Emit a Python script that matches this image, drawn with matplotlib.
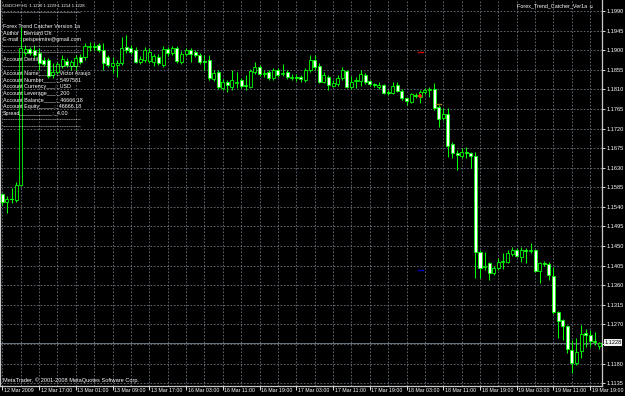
import matplotlib
matplotlib.use('Agg')
import matplotlib.pyplot as plt
from matplotlib.patches import Rectangle
from matplotlib.ticker import MultipleLocator
from matplotlib.transforms import ScaledTranslation

plt.rcParams['font.family'] = ['Liberation Sans', 'DejaVu Sans']

symbol_title = 'USDCHF,H1  1.1220 1.1229 1.1214 1.1228'
indicator_name = 'Forex_Trend_Catcher_Ver1a \u263A'
footer_text = 'MetaTrader, \u00a9 2001-2008 MetaQuotes Software Corp.'

# H1 bars, 12 Mar 2009 09:00 .. 19 Mar 2009 21:00
bar_open = [
    1.1569, 1.1551, 1.1557, 1.1556, 1.1590, 1.1893, 1.1903, 1.1900, 1.1893, 1.1877,
    1.1877, 1.1843, 1.1850, 1.1864, 1.1875, 1.1864, 1.1864, 1.1884, 1.1884, 1.1907,
    1.1910, 1.1912, 1.1900, 1.1884, 1.1864, 1.1866, 1.1871, 1.1907, 1.1905, 1.1900,
    1.1873, 1.1877, 1.1875, 1.1873, 1.1884, 1.1866, 1.1903, 1.1893, 1.1905, 1.1873,
    1.1891, 1.1900, 1.1896, 1.1889, 1.1875, 1.1877, 1.1834, 1.1850, 1.1813, 1.1827,
    1.1815, 1.1825, 1.1831, 1.1820, 1.1815, 1.1850, 1.1861, 1.1845, 1.1850, 1.1836,
    1.1854, 1.1845, 1.1850, 1.1836, 1.1838, 1.1838, 1.1831, 1.1854, 1.1877, 1.1864,
    1.1827, 1.1838, 1.1818, 1.1822, 1.1836, 1.1852, 1.1815, 1.1829, 1.1829, 1.1843,
    1.1829, 1.1822, 1.1815, 1.1820, 1.1804, 1.1802, 1.1820, 1.1806, 1.1790, 1.1781,
    1.1797, 1.1792, 1.1804, 1.1808, 1.1811, 1.1769, 1.1744, 1.1753, 1.1684, 1.1664,
    1.1657, 1.1666, 1.1664, 1.1657, 1.1436, 1.1402, 1.1411, 1.1388, 1.1399, 1.1413,
    1.1413, 1.1432, 1.1441, 1.1425, 1.1441, 1.1438, 1.1441, 1.1393, 1.1411, 1.1409,
    1.1381, 1.1298, 1.1280, 1.1266, 1.1211, 1.1181, 1.1209, 1.1250, 1.1245, 1.1232,
    1.1220]
bar_high = [
    1.1572, 1.1565, 1.1583, 1.1597, 1.1953, 1.1912, 1.1907, 1.1912, 1.1905, 1.1884,
    1.1882, 1.1871, 1.1873, 1.1889, 1.1882, 1.1877, 1.1889, 1.1891, 1.1917, 1.1919,
    1.1917, 1.1917, 1.1917, 1.1889, 1.1884, 1.1877, 1.1930, 1.1935, 1.1912, 1.1907,
    1.1887, 1.1907, 1.1905, 1.1891, 1.1891, 1.1910, 1.1907, 1.1910, 1.1910, 1.1898,
    1.1905, 1.1905, 1.1900, 1.1893, 1.1889, 1.1889, 1.1854, 1.1854, 1.1834, 1.1831,
    1.1854, 1.1850, 1.1836, 1.1843, 1.1857, 1.1873, 1.1866, 1.1854, 1.1854, 1.1859,
    1.1859, 1.1868, 1.1854, 1.1845, 1.1845, 1.1843, 1.1859, 1.1889, 1.1889, 1.1871,
    1.1850, 1.1843, 1.1831, 1.1843, 1.1861, 1.1854, 1.1841, 1.1838, 1.1854, 1.1848,
    1.1831, 1.1825, 1.1827, 1.1822, 1.1808, 1.1827, 1.1827, 1.1811, 1.1792, 1.1802,
    1.1802, 1.1808, 1.1813, 1.1815, 1.1825, 1.1774, 1.1767, 1.1767, 1.1689, 1.1671,
    1.1675, 1.1677, 1.1666, 1.1666, 1.1441, 1.1436, 1.1413, 1.1404, 1.1422, 1.1434,
    1.1441, 1.1448, 1.1445, 1.1448, 1.1445, 1.1457, 1.1443, 1.1413, 1.1416, 1.1413,
    1.1402, 1.1301, 1.1282, 1.1269, 1.1234, 1.1239, 1.1269, 1.1259, 1.1257, 1.1252,
    1.1229]
bar_low = [
    1.1544, 1.1526, 1.1549, 1.1551, 1.1588, 1.1887, 1.1889, 1.1882, 1.1854, 1.1864,
    1.1836, 1.1836, 1.1845, 1.1859, 1.1861, 1.1854, 1.1854, 1.1868, 1.1877, 1.1898,
    1.1900, 1.1896, 1.1854, 1.1861, 1.1848, 1.1838, 1.1866, 1.1893, 1.1891, 1.1871,
    1.1868, 1.1873, 1.1871, 1.1864, 1.1866, 1.1861, 1.1887, 1.1889, 1.1871, 1.1868,
    1.1887, 1.1873, 1.1884, 1.1868, 1.1854, 1.1831, 1.1829, 1.1811, 1.1808, 1.1804,
    1.1808, 1.1813, 1.1813, 1.1808, 1.1813, 1.1845, 1.1841, 1.1838, 1.1831, 1.1831,
    1.1838, 1.1841, 1.1834, 1.1831, 1.1829, 1.1827, 1.1827, 1.1850, 1.1854, 1.1825,
    1.1825, 1.1808, 1.1815, 1.1818, 1.1831, 1.1813, 1.1811, 1.1813, 1.1818, 1.1822,
    1.1818, 1.1815, 1.1811, 1.1799, 1.1797, 1.1799, 1.1804, 1.1785, 1.1774, 1.1779,
    1.1790, 1.1779, 1.1799, 1.1792, 1.1762, 1.1723, 1.1740, 1.1654, 1.1652, 1.1625,
    1.1652, 1.1652, 1.1629, 1.1376, 1.1376, 1.1395, 1.1372, 1.1383, 1.1395, 1.1397,
    1.1411, 1.1427, 1.1425, 1.1413, 1.1411, 1.1434, 1.1390, 1.1365, 1.1404, 1.1372,
    1.1294, 1.1239, 1.1234, 1.1204, 1.1158, 1.1177, 1.1193, 1.1218, 1.1218, 1.1223,
    1.1214]
bar_close = [
    1.1551, 1.1558, 1.1558, 1.1590, 1.1905, 1.1903, 1.1893, 1.1889, 1.1871, 1.1868,
    1.1841, 1.1850, 1.1868, 1.1880, 1.1866, 1.1873, 1.1882, 1.1873, 1.1910, 1.1910,
    1.1907, 1.1900, 1.1871, 1.1866, 1.1871, 1.1871, 1.1905, 1.1900, 1.1896, 1.1873,
    1.1880, 1.1900, 1.1896, 1.1887, 1.1871, 1.1903, 1.1893, 1.1905, 1.1875, 1.1891,
    1.1900, 1.1891, 1.1889, 1.1873, 1.1873, 1.1836, 1.1848, 1.1815, 1.1827, 1.1820,
    1.1831, 1.1827, 1.1818, 1.1818, 1.1852, 1.1861, 1.1845, 1.1848, 1.1836, 1.1854,
    1.1843, 1.1848, 1.1838, 1.1838, 1.1836, 1.1834, 1.1854, 1.1877, 1.1861, 1.1827,
    1.1843, 1.1820, 1.1825, 1.1836, 1.1854, 1.1815, 1.1827, 1.1831, 1.1845, 1.1827,
    1.1822, 1.1820, 1.1820, 1.1802, 1.1802, 1.1818, 1.1806, 1.1790, 1.1783, 1.1799,
    1.1795, 1.1804, 1.1808, 1.1811, 1.1767, 1.1742, 1.1753, 1.1680, 1.1664, 1.1659,
    1.1666, 1.1664, 1.1657, 1.1436, 1.1399, 1.1404, 1.1388, 1.1399, 1.1413, 1.1416,
    1.1434, 1.1441, 1.1427, 1.1441, 1.1438, 1.1441, 1.1393, 1.1411, 1.1409, 1.1383,
    1.1298, 1.1278, 1.1266, 1.1213, 1.1181, 1.1206, 1.1248, 1.1245, 1.1232, 1.1230,
    1.1228]

bid_price = 1.1228

price_levels = [1.1990, 1.1945, 1.1900, 1.1855, 1.1810, 1.1765, 1.1720, 1.1675, 1.1630, 1.1585,
                1.1540, 1.1495, 1.1450, 1.1405, 1.1360, 1.1315, 1.1270, 1.1225, 1.1180, 1.1135]

time_labels = ['12 Mar 2009', '12 Mar 17:00', '13 Mar 01:00', '13 Mar 09:00', '13 Mar 17:00',
               '16 Mar 03:00', '16 Mar 11:00', '16 Mar 19:00', '17 Mar 03:00', '17 Mar 11:00',
               '17 Mar 19:00', '18 Mar 03:00', '18 Mar 11:00', '18 Mar 19:00', '19 Mar 03:00',
               '19 Mar 11:00', '19 Mar 19:00']
time_label_bars = [0, 8, 16, 24, 32, 40, 48, 56, 64, 72, 80, 88, 96, 104, 112, 120, 128]

# small indicator marks (bar index, price)
signal_dash_bars = [91, 91, 95]
signal_dash_prices = [1.1896, 1.1395, 1.1776]
signal_cross_bar = 91
signal_cross_price = 1.1795

dash_line = '-' * 45
comment_lines = [
    dash_line,
    '',
    'Forex Trend Catcher Version 1a',
    'Author : Bernard Oh',
    'E-mail : peispeimire@gmail.com',
    dash_line,
    dash_line,
    'Account Detail',
    dash_line,
    'Account Name_____ :_Victor Araujo',
    'Account Number____:_5497581',
    'Account Currency___:_USD',
    'Account Leverage___:_200',
    'Account Balance____:_46666.18',
    'Account Equity_____:_46666.18',
    'Spread___________:_4.00',
    dash_line,
    dash_line,
]

W, H = 625, 396
LIME = '#00ff00'
GRID = '#6c7480'


def draw_candles(ax):
    for i in range(len(bar_open)):
        o, h, l, c = bar_open[i], bar_high[i], bar_low[i], bar_close[i]
        ax.plot([i, i], [l, h], color=LIME, lw=0.75, zorder=2, solid_capstyle='butt')
        lo, hi = min(o, c), max(o, c)
        if hi - lo < 0.00012:
            ax.plot([i - 0.33, i + 0.33], [o, o], color=LIME, lw=0.8, zorder=3)
            continue
        face = 'white' if c < o else 'black'
        ax.add_patch(Rectangle((i - 0.33, lo), 0.66, hi - lo, facecolor=face,
                               edgecolor=LIME, lw=0.6, zorder=3))


def draw_signals(ax):
    colors = ['#d00000', '#0000c0', '#8a7a10']
    for b, p, col in zip(signal_dash_bars, signal_dash_prices, colors):
        ax.plot([b - 0.55, b + 0.55], [p, p], color=col, lw=1.0, zorder=4)
    ax.plot(signal_cross_bar, signal_cross_price, marker='+', color='#ff2020',
            ms=3.5, mew=1.2, zorder=5)


def main():
    fig = plt.figure(figsize=(W / 100, H / 100), dpi=100, facecolor='black')
    ax = fig.add_axes([0, 10 / H, 602 / W, 386 / H])
    ax.set_facecolor('black')

    ax.set_xlim(-0.507, 130.56)
    ax.set_ylim(1.11283, 1.20153)

    ax.xaxis.set_minor_locator(MultipleLocator(4))
    ax.set_xticks(time_label_bars)
    ax.set_xticklabels(time_labels, ha='left')
    ax.tick_params(axis='x', which='major', colors='white', labelsize=3.8, length=3,
                   width=0.6, pad=-1.5)
    ax.tick_params(axis='x', which='minor', length=0)
    offset = ScaledTranslation(1.5 / 100, 0, fig.dpi_scale_trans)
    for lab in ax.get_xticklabels():
        lab.set_transform(lab.get_transform() + offset)

    # the bid label sits on top of the 1.1225 level, so that one is left blank
    ax.yaxis.tick_right()
    ax.set_yticks(price_levels)
    ax.set_yticklabels(['' if abs(p - bid_price) < 0.0008 else f'{p:.4f}' for p in price_levels])
    ax.tick_params(axis='y', colors='white', labelsize=4.1, length=2, width=0.6, pad=1.5)

    ax.grid(True, which='both', axis='x', color=GRID, linestyle=(0, (2, 2)), lw=0.6)
    ax.grid(True, which='major', axis='y', color=GRID, linestyle=(0, (2, 2)), lw=0.6)
    ax.set_axisbelow(True)

    for side in ['left', 'right', 'bottom']:
        ax.spines[side].set_color('#c8c8c8')
        ax.spines[side].set_linewidth(0.9)
    ax.spines['top'].set_visible(False)

    ax.axhline(bid_price, color='#7c8896', lw=0.6, zorder=1)
    draw_candles(ax)
    draw_signals(ax)

    ax.text(1.004, bid_price, f'{bid_price:.4f}', transform=ax.get_yaxis_transform(),
            ha='left', va='center', fontsize=4.1, color='black', clip_on=False, zorder=10,
            bbox=dict(boxstyle='square,pad=0.12', fc='#f0f0f0', ec='none'))

    fig.text(3 / W, 1 - 6 / H, symbol_title, color='white', fontsize=3.1, va='center')
    fig.text(594 / W, 1 - 6 / H, indicator_name, color='white', fontsize=3.9,
             va='center', ha='right')
    for k, line in enumerate(comment_lines):
        fig.text(3 / W, 1 - (13 + 6.7 * k) / H, line, color='white', fontsize=3.9, va='center')
    fig.text(3 / W, 1 - 380 / H, footer_text, color='white', fontsize=4.1, va='center')

    fig.savefig('out.png', dpi=100, facecolor='black')


if __name__ == '__main__':
    main()
